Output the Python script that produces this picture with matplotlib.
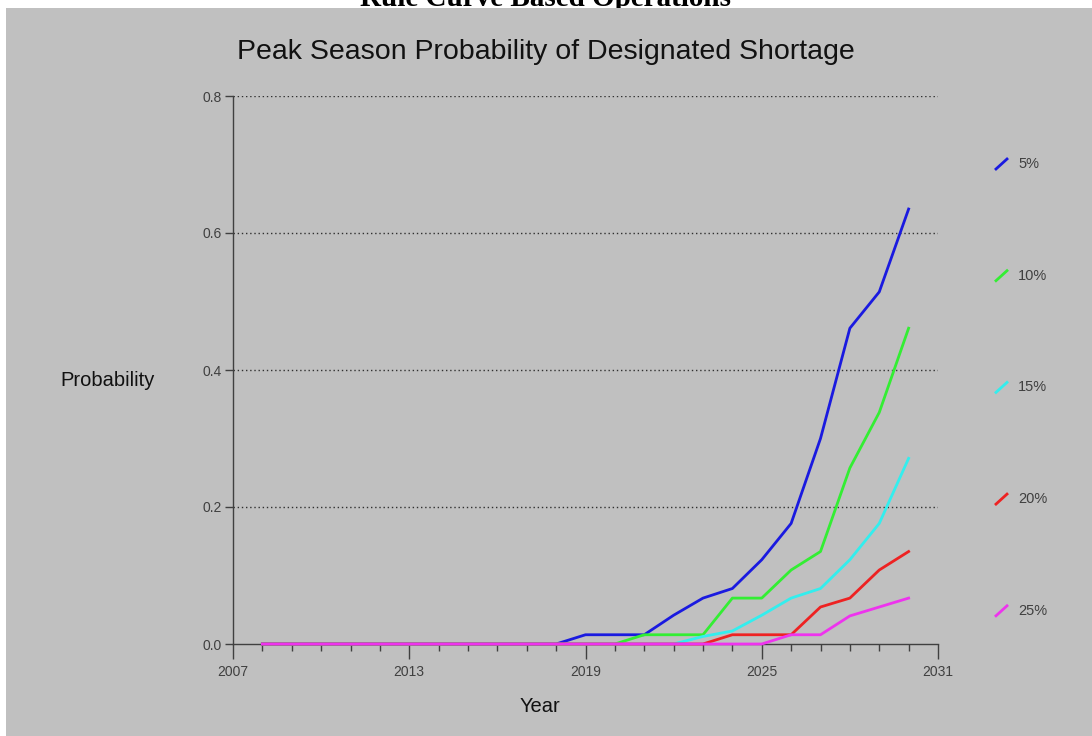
import matplotlib.pyplot as plt
from matplotlib.lines import Line2D
from matplotlib.patches import Rectangle

years = list(range(2008, 2031))
labels = ['5%', '10%', '15%', '20%', '25%']
colors = ['#1a1ae0', '#33ee33', '#33eeee', '#ee2222', '#ee33ee']

p5 = [0]*11 + [0.0135, 0.0135, 0.0135, 0.042, 0.067, 0.081, 0.123, 0.176, 0.30, 0.461, 0.514, 0.635]
p10 = [0]*13 + [0.0135, 0.0135, 0.0135, 0.067, 0.067, 0.108, 0.135, 0.257, 0.338, 0.461]
p15 = [0]*15 + [0.011, 0.019, 0.042, 0.067, 0.081, 0.123, 0.176, 0.271]
p20 = [0]*16 + [0.0135, 0.0135, 0.0135, 0.054, 0.067, 0.108, 0.135]
p25 = [0]*18 + [0.0135, 0.0135, 0.041, 0.054, 0.067]
series = [p5, p10, p15, p20, p25]

plt.rcParams['font.family'] = ['Liberation Sans', 'DejaVu Sans']
W, H = 1092, 736
fig = plt.figure(figsize=(W/100, H/100), dpi=100, facecolor='white')

# cut-off heading at the very top (gray panel covers its lower part)
fig.text(546/W, 1 - 6/H, 'Rule Curve Based Operations', ha='center', va='baseline',
         fontsize=21, fontweight='bold', family='Liberation Serif', color='black', zorder=-3)

# gray panel (white strip on top and left edge)
fig.patches.append(Rectangle((6/W, 0), 1, (H-8)/H, transform=fig.transFigure,
                             facecolor='#c0c0c0', edgecolor='none', zorder=-2))

ax = fig.add_axes([233/W, 1 - 644/H, (938-233)/W, (644-96)/H])
ax.set_facecolor('none')

for vals, c in zip(series, colors):
    ax.plot(years, vals, color=c, lw=2.0, solid_joinstyle='round', zorder=3, clip_on=False)

ax.set_xlim(2007, 2031)
ax.set_ylim(0, 0.8)
ax.set_xticks([2007, 2013, 2019, 2025, 2031])
ax.set_xticks(range(2007, 2032), minor=True)
ax.set_yticks([0.0, 0.2, 0.4, 0.6, 0.8])
ax.set_yticklabels(['0.0', '0.2', '0.4', '0.6', '0.8'])
ax.tick_params(axis='x', which='major', length=11, width=1, color='#404040',
               labelsize=10, labelcolor='#404040', pad=4)
ax.tick_params(axis='x', which='minor', length=5, width=1, color='#404040')
ax.tick_params(axis='y', length=6, width=1, color='#404040', labelsize=10,
               labelcolor='#404040', pad=2)
for s in ['top', 'right']:
    ax.spines[s].set_visible(False)
for s in ['left', 'bottom']:
    ax.spines[s].set_color('#404040')
    ax.spines[s].set_linewidth(1)

for y in [0.2, 0.4, 0.6, 0.8]:
    ax.axhline(y, color='#303030', lw=1, ls=(0, (1, 2)), zorder=0)

fig.text(546/W, 1 - 52/H, 'Peak Season Probability of Designated Shortage',
         ha='center', va='center', fontsize=20.5, color='#111111')
fig.text(108/W, 1 - 381/H, 'Probability', ha='center', va='center', fontsize=14.5, color='#111111')
fig.text(540/W, 1 - 707/H, 'Year', ha='center', va='center', fontsize=14.5, color='#111111')

# legend on the right
for i, (lab, c) in enumerate(zip(labels, colors)):
    yc = 164 + i*111.7
    fig.lines.append(Line2D([996/W, 1007/W], [1 - (yc+5)/H, 1 - (yc-5)/H],
                            transform=fig.transFigure, color=c, lw=2.0))
    fig.text(1018/W, 1 - yc/H, lab, ha='left', va='center', fontsize=10.5, color='#404040')

plt.savefig('out.png', dpi=100)
